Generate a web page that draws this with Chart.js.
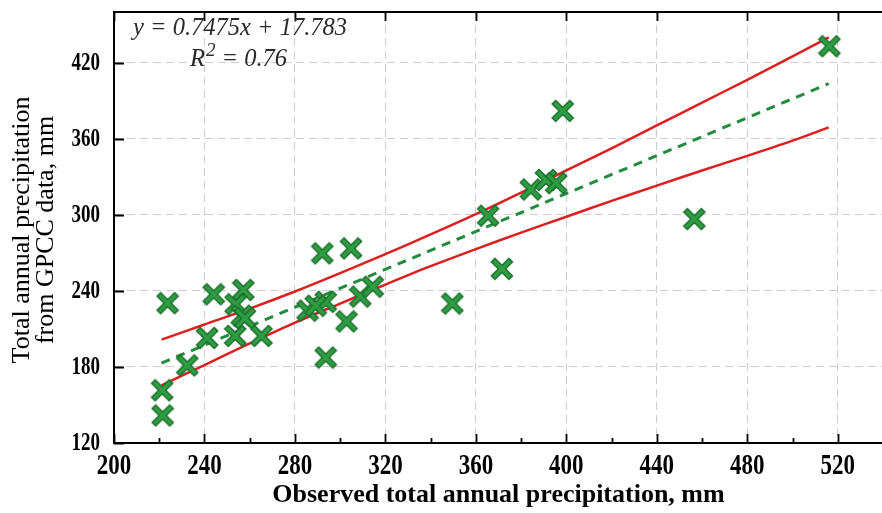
<!DOCTYPE html>
<html>
<head>
<meta charset="utf-8">
<script src="https://cdn.jsdelivr.net/npm/chart.js@4"></script>
<style>
  html, body { margin: 0; padding: 0; background: #fff; overflow: hidden; }
  #wrap { width: 882px; height: 513px; overflow: hidden; }
</style>
</head>
<body>
<div id="wrap"><canvas id="c" width="895" height="513"></canvas></div>
<script>
// ── Daten ────────────────────────────────────────────────────

// Beobachteter Jahresniederschlag (mm)
const obsX = [223.7, 244.1, 257.2, 253.8, 256.5, 257.9, 241.2, 253.6, 265.2, 232.4,
              221.3, 221.5, 292.1, 304.8, 285.6, 293.6, 289.2, 308.9, 314.4, 302.8,
              293.6, 365.4, 384.3, 391.0, 395.5, 398.4, 371.5, 349.6, 456.6, 516.3];
// GPCC Jahresniederschlag (mm)
const gpccY = [230.3, 237.3, 240.7, 229.5, 220.5, 218.4, 202.9, 204.5, 204.5, 181.2,
               161.6, 141.7, 269.6, 273.5, 224.4, 231.4, 228.3, 235.5, 243.3, 215.9,
               187.4, 299.3, 320.0, 327.5, 325.0, 382.0, 257.4, 230.0, 296.7, 433.0];

// Regressionsgerade y = 0.7475x + 17.783 (Endpunkte)
const fitX = [221, 516];
const fitY = [183.0, 403.5];

// Konfidenzband (rote Linien)
const bandX  = [221, 240, 260, 280, 300, 320, 340, 360, 380, 400, 420, 440, 460, 480, 500, 516];
const upperY = [201.5, 213.5, 226, 239.5, 254, 269, 284.5, 300.5, 317.5, 335, 352.5, 370.5, 388.5, 406.5, 425, 440];
const lowerY = [165.5, 181.5, 198.5, 215, 230, 245, 259.5, 273, 286, 298.5, 311, 323, 335, 346.5, 358.5, 369];

// Achsenbeschriftungen
const xTicks = [200, 240, 280, 320, 360, 400, 440, 480, 520];
const yTicks = [120, 180, 240, 300, 360, 420];
const xMinorStep = 20;

const xTitle = 'Observed total annual precipitation, mm';
const yTitle = ['Total annual precipitation', 'from GPCC data, mm'];

// ── Hilfsfunktionen ──────────────────────────────────────────

const pts = (xs, ys) => xs.map((x, i) => ({ x, y: ys[i] }));
const serif = '"Liberation Serif", "Times New Roman", serif';

// Kreuz-Marker mit dunklem Rand
function makeCross() {
  const cv = document.createElement('canvas');
  cv.width = 24; cv.height = 24;
  const g = cv.getContext('2d');
  const draw = (w, col) => {
    g.strokeStyle = col; g.lineWidth = w; g.lineCap = 'square';
    g.beginPath();
    g.moveTo(5, 5); g.lineTo(19, 19);
    g.moveTo(19, 5); g.lineTo(5, 19);
    g.stroke();
  };
  draw(6.5, '#1c6e2c');
  draw(3.6, '#2f9d43');
  return cv;
}

// schmale (gestauchte) Schrift: vertikal strecken
function tallText(ctx, txt, x, y, k, align) {
  ctx.save();
  ctx.translate(x, y);
  ctx.scale(1, k);
  ctx.textAlign = align;
  ctx.textBaseline = 'middle';
  ctx.fillText(txt, 0, 0);
  ctx.restore();
}

// Rahmen, nach innen zeigende Ticks, Beschriftungen
const framePlugin = {
  id: 'frame',
  afterDraw(chart) {
    const { ctx, chartArea: a, scales: { x, y } } = chart;
    ctx.save();
    ctx.strokeStyle = '#000';
    ctx.lineWidth = 2;
    ctx.beginPath();
    ctx.moveTo(a.left, a.top - 1); ctx.lineTo(a.left, a.bottom); ctx.lineTo(a.right + 2, a.bottom);
    ctx.moveTo(a.left - 1, a.top); ctx.lineTo(a.right + 2, a.top);
    ctx.stroke();

    ctx.lineWidth = 1.8;
    ctx.beginPath();
    for (let v = x.min; v <= x.max; v += xMinorStep) {
      const px = Math.round(x.getPixelForValue(v)) + 0.5;
      const major = xTicks.includes(v);
      ctx.moveTo(px, a.bottom); ctx.lineTo(px, a.bottom - (major ? 9 : 5));
      if (major) { ctx.moveTo(px, a.top); ctx.lineTo(px, a.top + 9); }
    }
    yTicks.forEach(v => {
      const py = Math.round(y.getPixelForValue(v)) + 0.5;
      ctx.moveTo(a.left, py); ctx.lineTo(a.left + 10, py);
    });
    ctx.stroke();

    // Tick-Beschriftungen
    ctx.fillStyle = '#000';
    ctx.font = 'bold 19px ' + serif;
    yTicks.forEach(v => tallText(ctx, String(v), a.left - 14, y.getPixelForValue(v) + 1, 1.3, 'right'));
    ctx.font = 'bold 23px ' + serif;
    xTicks.forEach(v => tallText(ctx, String(v), x.getPixelForValue(v), 466, 1.28, 'center'));

    // Achsentitel
    ctx.font = 'bold 26px ' + serif;
    ctx.textAlign = 'center';
    ctx.textBaseline = 'middle';
    ctx.fillText(xTitle, (a.left + a.right) / 2, 495);

    ctx.save();
    ctx.translate(0, 230);
    ctx.rotate(-Math.PI / 2);
    ctx.font = '26px ' + serif;
    ctx.fillText(yTitle[0], 0, 22);
    ctx.fillText(yTitle[1], 0, 46);
    ctx.restore();
    ctx.restore();
  }
};

// Gleichung oben links
const eqPlugin = {
  id: 'eq',
  afterDraw(chart) {
    const ctx = chart.ctx;
    ctx.save();
    ctx.fillStyle = '#2a2a2a';
    ctx.textBaseline = 'alphabetic';
    ctx.textAlign = 'left';
    ctx.font = 'italic 24.5px ' + serif;
    ctx.fillText('y = 0.7475x + 17.783', 133, 35);
    let px = 190;
    ctx.fillText('R', px, 66);
    px += ctx.measureText('R').width + 1;
    ctx.font = 'italic 19px ' + serif;
    ctx.fillText('2', px, 56);
    px += ctx.measureText('2').width;
    ctx.font = 'italic 24.5px ' + serif;
    ctx.fillText(' = 0.76', px, 66);
    ctx.restore();
  }
};

// ── Chart ────────────────────────────────────────────────────

new Chart(document.getElementById('c'), {
  type: 'scatter',
  data: {
    datasets: [
      {
        data: pts(obsX, gpccY),
        pointStyle: makeCross(),
        pointRadius: 11,
        showLine: false
      },
      {
        data: pts(fitX, fitY),
        showLine: true,
        borderColor: '#238b3d',
        borderWidth: 3,
        borderDash: [9, 7],
        pointRadius: 0
      },
      {
        data: pts(bandX, upperY),
        showLine: true,
        borderColor: '#dc1f1f',
        borderWidth: 2.5,
        tension: 0.3,
        pointRadius: 0
      },
      {
        data: pts(bandX, lowerY),
        showLine: true,
        borderColor: '#dc1f1f',
        borderWidth: 2.5,
        tension: 0.3,
        pointRadius: 0
      }
    ]
  },
  options: {
    responsive: false,
    animation: false,
    devicePixelRatio: 1,
    layout: { padding: { top: 4, right: 2, left: 0, bottom: 0 } },
    plugins: { legend: { display: false }, tooltip: { enabled: false } },
    scales: {
      x: {
        type: 'linear',
        min: 200, max: 540,
        afterBuildTicks: s => { s.ticks = xTicks.map(v => ({ value: v })); },
        afterFit: s => { s.height = 70; s.paddingLeft = 0; s.paddingRight = 0; },
        grid: { color: '#cdcdcd', lineWidth: 1, drawTicks: false },
        border: { display: false, dash: [8, 5] },
        ticks: { display: false }
      },
      y: {
        type: 'linear',
        min: 120, max: 460,
        afterBuildTicks: s => { s.ticks = yTicks.map(v => ({ value: v })); },
        afterFit: s => { s.width = 114; s.paddingTop = 0; s.paddingBottom = 0; },
        grid: { color: '#cdcdcd', lineWidth: 1, drawTicks: false },
        border: { display: false, dash: [8, 5] },
        ticks: { display: false }
      }
    }
  },
  plugins: [framePlugin, eqPlugin]
});
</script>
</body>
</html>
